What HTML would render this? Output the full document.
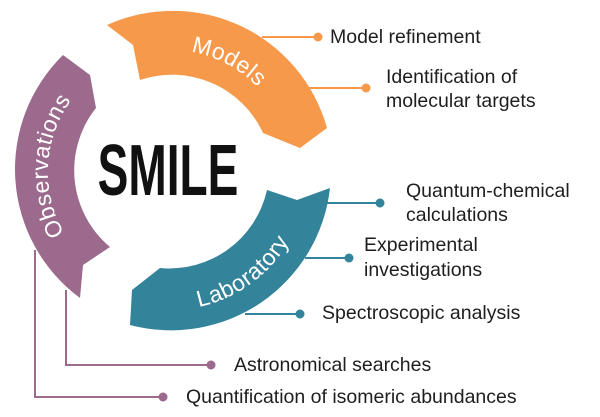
<!DOCTYPE html>
<html><head><meta charset="utf-8"><style>
html,body{margin:0;padding:0;background:#fff;}
svg{display:block;}
.t{font-family:"Liberation Sans",sans-serif;font-size:19.5px;fill:#1e1e1e;}
.w{font-family:"Liberation Sans",sans-serif;font-size:23px;fill:#fff;letter-spacing:0.5px;}
</style></head><body>
<svg width="600" height="417" viewBox="0 0 600 417" xmlns="http://www.w3.org/2000/svg">
<defs>
<path id="pm" d="M105.3,68.5 A122,122 0 0 1 291.9,167.7"/>
<path id="po" d="M103.5,274.4 A122,122 0 0 1 114.6,63.3"/>
<path id="pl" d="M113.9,298.1 A138,138 0 0 0 307.2,157.6"/>
</defs>
<g stroke-width="2" fill="none">
<path d="M262,37 H318" stroke="#F7994A"/>
<path d="M308,88 H366" stroke="#F7994A"/>
<path d="M325,203 H380" stroke="#33849A"/>
<path d="M305,258 H349" stroke="#33849A"/>
<path d="M245,314 H300" stroke="#33849A"/>
<path d="M66,290 V365 H211" stroke="#9C6A8D"/>
<path d="M35,250 V397 H163" stroke="#9C6A8D"/>
</g>
<g>
<circle cx="318" cy="37" r="4.5" fill="#F7994A"/>
<circle cx="366" cy="88" r="4.5" fill="#F7994A"/>
<circle cx="380" cy="203" r="4.5" fill="#33849A"/>
<circle cx="349" cy="258" r="4.5" fill="#33849A"/>
<circle cx="300" cy="314" r="4.5" fill="#33849A"/>
<circle cx="211" cy="365" r="4.5" fill="#9C6A8D"/>
<circle cx="163" cy="397" r="4.5" fill="#9C6A8D"/>
</g>
<path fill="#F7994A" d="M107,25 A160,160 0 0 1 327,128 L300,148 L263,133 A100,100 0 0 0 140,80 L133,45 Z"/>
<path fill="#33849A" d="M330,188 A160,160 0 0 1 130,325 L132,290 L160,268 A100,100 0 0 0 267,190 L297,200 Z"/>
<path fill="#9C6A8D" d="M80,298 A160,160 0 0 1 63,55 L90,75 L96,108 A100,100 0 0 0 110,247 L83,265 Z"/>
<text class="w"><textPath href="#pm" startOffset="50%" text-anchor="middle">Models</textPath></text>
<text class="w"><textPath href="#po" startOffset="50%" text-anchor="middle">Observations</textPath></text>
<text class="w"><textPath href="#pl" startOffset="50%" text-anchor="middle">Laboratory</textPath></text>
<text x="0" y="0" text-anchor="middle" font-family="Liberation Sans,sans-serif" font-weight="bold" font-size="72" fill="#111" transform="translate(168,195) scale(0.64,1)">SMILE</text>
<g class="t">
<text x="330" y="43">Model refinement</text>
<text x="386" y="83">Identification of</text>
<text x="386" y="107">molecular targets</text>
<text x="406" y="197">Quantum-chemical</text>
<text x="406" y="221">calculations</text>
<text x="364" y="251">Experimental</text>
<text x="364" y="276">investigations</text>
<text x="322" y="319">Spectroscopic analysis</text>
<text x="234" y="371">Astronomical searches</text>
<text x="186" y="403">Quantification of isomeric abundances</text>
</g>
</svg>
</body></html>
